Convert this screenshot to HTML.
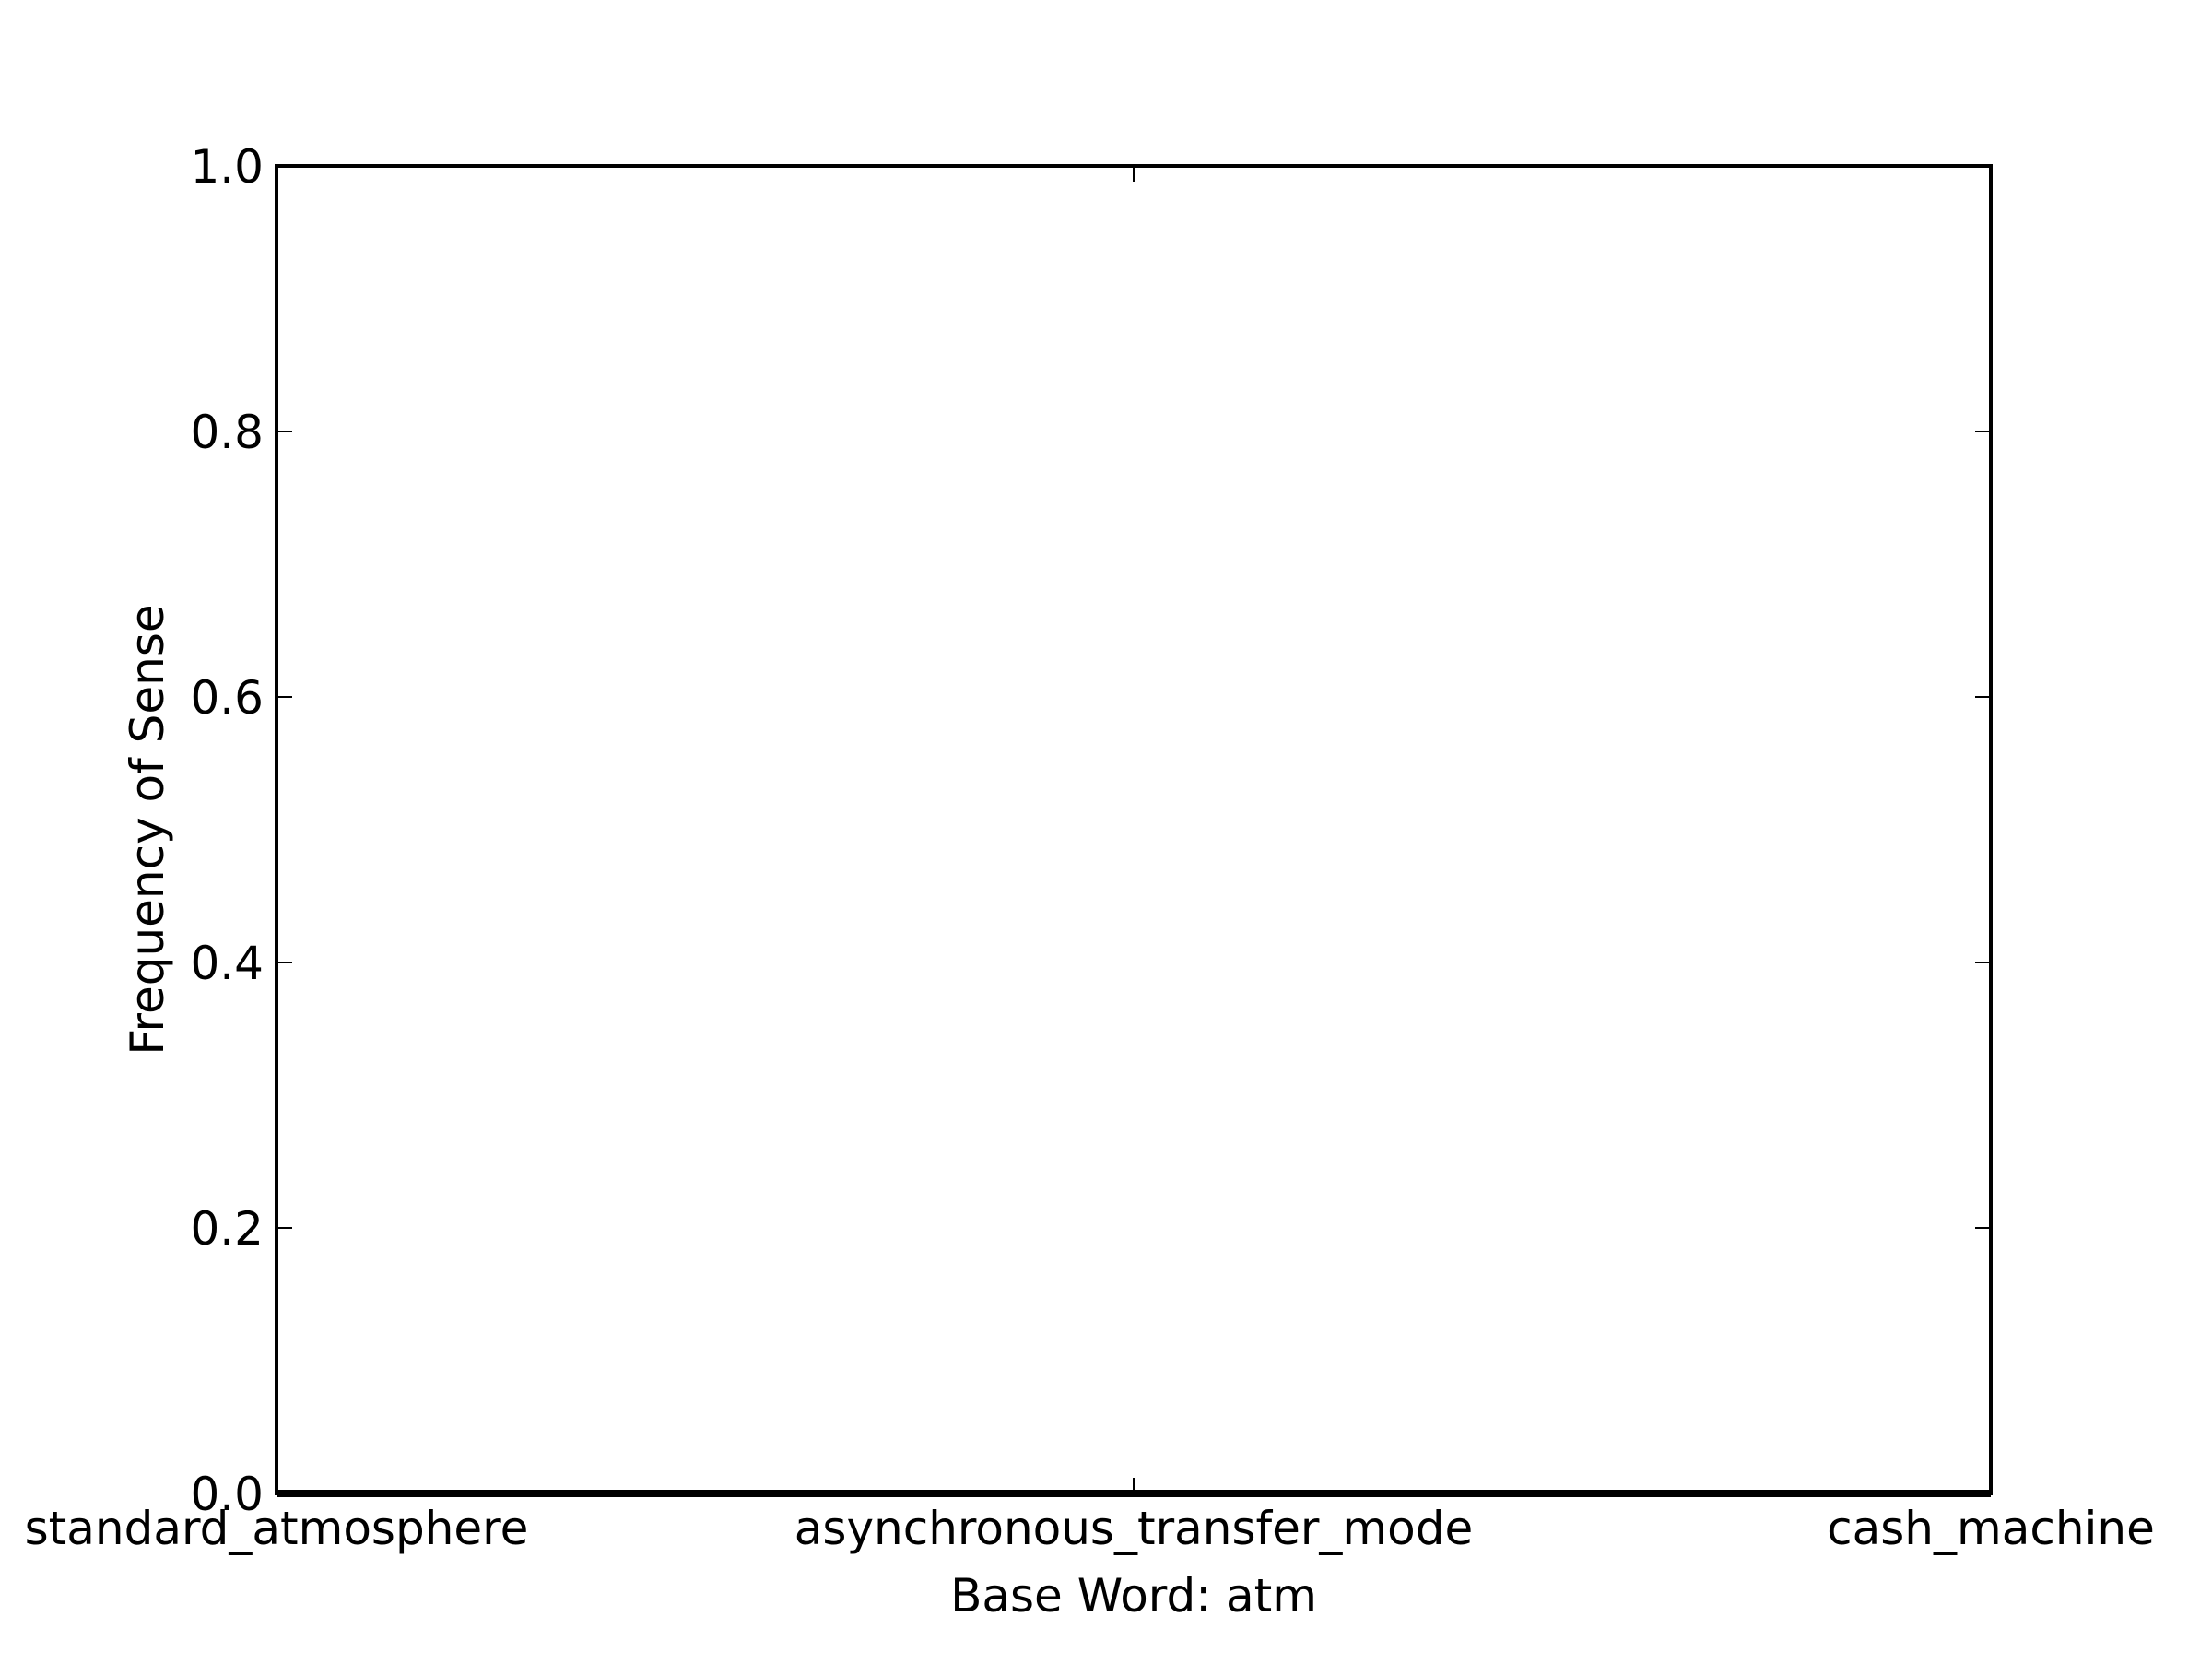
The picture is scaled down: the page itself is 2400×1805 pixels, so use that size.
<!DOCTYPE html>
<html><head><meta charset="utf-8"><style>
html,body{margin:0;padding:0;background:#fff}
svg text{font-family:"DejaVu Sans","Liberation Sans",sans-serif;fill:#000}
</style></head><body>
<svg id="chart" width="2400" height="1800" xmlns="http://www.w3.org/2000/svg">
<rect width="2400" height="1800" fill="#fff"/>
<g id="ticks"></g>
<g id="marks"></g>
<rect x="300" y="180" width="1860" height="1440" fill="none" stroke="#000" stroke-width="4"/>
<text x="1230" y="1748" font-size="50" text-anchor="middle">Base Word: atm</text>
<text transform="translate(177,900) rotate(-90)" font-size="50" text-anchor="middle">Frequency of Sense</text>
</svg>
<script>
const categories = ["standard_atmosphere","asynchronous_transfer_mode","cash_machine"];
const values = [0, 0, 0];
const yTicks = [0, 0.2, 0.4, 0.6, 0.8, 1.0];
const yTickLabels = ["0.0","0.2","0.4","0.6","0.8","1.0"];
const L=300,R=2160,T=180,B=1620;
const NS="http://www.w3.org/2000/svg";
function xPos(i){return L+(R-L)*i/(categories.length-1);}
function yPos(v){return B-(B-T)*v;}
const ticks=document.getElementById('ticks');
const marks=document.getElementById('marks');
function mk(tag,attrs,parent){const e=document.createElementNS(NS,tag);for(const k in attrs)e.setAttribute(k,attrs[k]);parent.appendChild(e);return e;}
yTicks.forEach((v,i)=>{
  const y=yPos(v);
  const t1=mk('line',{x1:L,x2:L+17,y1:y,y2:y,stroke:'#000','stroke-width':2},ticks);
  
  
  const t2=mk('line',{x1:R-17,x2:R,y1:y,y2:y,stroke:'#000','stroke-width':2},ticks);
  
  
  const tx=mk('text',{x:L-14,y:y+18,'font-size':50,'text-anchor':'end'},ticks);
  tx.textContent=yTickLabels[i];
  
  
});
categories.forEach((c,i)=>{
  const x=xPos(i);
  const t1=mk('line',{x1:x,x2:x,y1:B,y2:B-17,stroke:'#000','stroke-width':2},ticks);
  
  
  const t2=mk('line',{x1:x,x2:x,y1:T,y2:T+17,stroke:'#000','stroke-width':2},ticks);
  
  
  const tx=mk('text',{x:x,y:B+55,'font-size':50,'text-anchor':'middle'},ticks);
  tx.textContent=c;
  
  
});
const bw=(R-L)/(categories.length-1);
values.forEach((v,i)=>{
  const x0=Math.max(L,xPos(i)-bw/2), x1=Math.min(R,xPos(i)+bw/2);
  const y=yPos(v);
  const r=mk('rect',{x:x0,y:y-4,width:x1-x0,height:Math.max(8,B-y+4),fill:'#000'},marks);
  
  
});
</script>
</body></html>
